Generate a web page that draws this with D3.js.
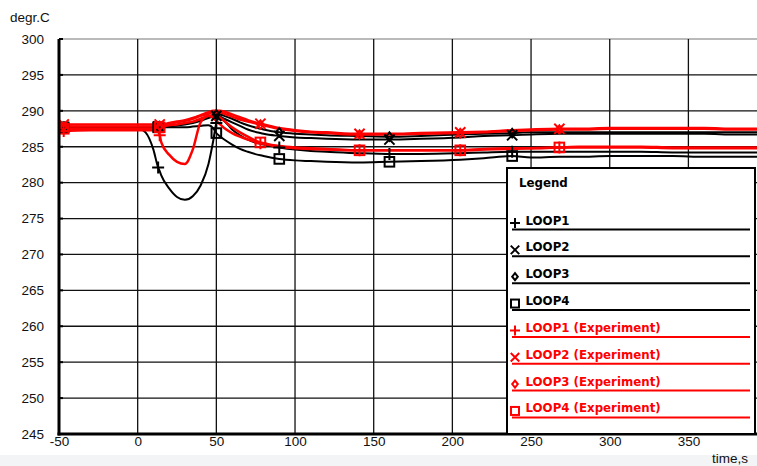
<!DOCTYPE html>
<html><head><meta charset="utf-8">
<script src="https://cdn.jsdelivr.net/npm/d3@7"></script>
<style>body{margin:0;background:#fff}svg{display:block}</style>
</head><body>
<script>
// ---------- data ----------
const times = [-50,-47,-30,-20,-10,0,5,10,13,14,15,20,25,30,35,40,45,48,50,52,55,60,65,70,78,80,90,100,110,120,141,160,180,205,220,238,250,268,280,300,320,340,360,380,394];
const loop1Sim = [287.7,287.7,287.7,287.7,287.7,287.6,287.0,284.6,282.1,281.6,281.0,279.2,278.0,277.6,278.1,279.6,282.6,285.8,288.3,289.0,288.6,287.4,286.6,286.0,285.4,285.3,284.9,284.6,284.4,284.3,284.1,284.0,284.0,284.1,284.2,284.3,284.3,284.3,284.3,284.3,284.3,284.2,284.2,284.2,284.2];
const loop2Sim = [287.7,287.7,287.7,287.7,287.7,287.7,287.7,287.7,287.8,287.8,287.8,287.9,288.0,288.1,288.3,288.6,289.0,289.2,289.3,289.2,288.9,288.4,287.9,287.4,286.9,286.8,286.5,286.3,286.2,286.1,286.0,286.0,286.1,286.3,286.5,286.6,286.7,286.8,286.8,286.8,286.8,286.8,286.8,286.7,286.7];
const loop3Sim = [287.7,287.7,287.7,287.7,287.7,287.7,287.7,287.7,287.8,287.8,287.8,287.9,288.0,288.2,288.4,288.7,289.2,289.4,289.5,289.5,289.3,288.9,288.4,288.0,287.5,287.4,287.0,286.8,286.7,286.6,286.5,286.4,286.5,286.7,286.8,286.9,287.0,287.0,287.0,287.0,287.0,287.0,287.0,287.0,287.0];
const loop4Sim = [287.7,287.7,287.7,287.7,287.7,287.7,287.7,287.7,287.7,287.7,287.7,287.7,287.7,287.7,287.8,287.9,288.0,287.6,286.9,286.5,286.0,285.3,284.7,284.3,283.8,283.7,283.3,283.1,283.0,282.9,282.8,282.9,283.0,283.2,283.4,283.7,283.5,283.6,283.6,283.7,283.7,283.7,283.6,283.6,283.6];
const loop1Exp = [287.1,287.2,287.3,287.3,287.3,287.3,287.3,287.3,287.1,286.6,285.6,283.9,282.9,282.6,284.6,288.4,289.3,289.0,288.6,288.2,287.6,286.9,286.4,286.0,285.5,285.4,285.0,284.8,284.7,284.6,284.5,284.5,284.5,284.5,284.6,284.7,284.8,284.9,284.9,284.9,284.9,284.8,284.8,284.8,284.8];
const loop2Exp = [288.3,288.1,288.1,288.1,288.1,288.1,288.1,288.1,288.1,288.1,288.1,288.3,288.5,288.7,289.0,289.4,289.8,290.0,290.0,290.0,289.9,289.5,289.1,288.7,288.2,288.1,287.6,287.3,287.1,287.0,286.8,286.8,286.9,287.0,287.1,287.3,287.4,287.5,287.5,287.6,287.6,287.6,287.6,287.5,287.5];
const loop3Exp = [287.9,287.8,287.8,287.8,287.8,287.8,287.8,287.8,287.9,287.9,288.0,288.2,288.4,288.6,288.9,289.3,289.6,289.8,289.8,289.8,289.6,289.2,288.8,288.5,288.1,288.0,287.5,287.2,287.0,286.9,286.7,286.7,286.8,286.9,287.0,287.2,287.3,287.4,287.4,287.5,287.5,287.5,287.5,287.4,287.4];
const loop4Exp = [287.4,287.5,287.5,287.5,287.5,287.5,287.5,287.5,287.7,287.7,287.8,288.0,288.1,288.3,288.5,288.9,289.3,289.4,289.3,289.1,288.6,287.7,287.0,286.4,285.6,285.5,285.1,284.9,284.8,284.7,284.5,284.5,284.5,284.5,284.7,284.8,284.8,284.9,285.0,285.0,285.0,284.9,284.9,284.9,284.9];
const simMarkerTimes = [-47,13,50,90,160,238];
const expMarkerTimes = [-47,14,78,141,205,268];
const xTicks = [-50,0,50,100,150,200,250,300,350];
const yTicks = [245,250,255,260,265,270,275,280,285,290,295,300];
const seriesNames = ["LOOP1","LOOP2","LOOP3","LOOP4","LOOP1 (Experiment)","LOOP2 (Experiment)","LOOP3 (Experiment)","LOOP4 (Experiment)"];
const seriesValues = [loop1Sim,loop2Sim,loop3Sim,loop4Sim,loop1Exp,loop2Exp,loop3Exp,loop4Exp];
const seriesShapes = ["plus","cross","diamond","square","plus","cross","diamond","square"];
const seriesColors = ["#000","#000","#000","#000","#f00","#f00","#f00","#f00"];

// ---------- layout ----------
const W = 757, H = 466;
const L = 59, R = 757, T = 39, B = 434;
const svg = d3.select("body").append("svg").attr("width", W).attr("height", H);
const x = d3.scaleLinear().domain([-50, 393.6]).range([L, R]);
const y = d3.scaleLinear().domain([245, 300]).range([B, T]);
const FONT = "Liberation Sans, Arial, sans-serif";

svg.append("rect").attr("x",0).attr("y",455).attr("width",W).attr("height",11).attr("fill","#f2f4f6");

// grid
const grid = svg.append("g");
grid.selectAll(".gy").data(yTicks.filter(v=>v>245 && v<300)).join("line")
  .attr("x1",L).attr("x2",R).attr("y1",d=>y(d)).attr("y2",d=>y(d))
  .attr("stroke","#111").attr("stroke-width",1.3);
grid.append("line").attr("x1",L).attr("x2",R).attr("y1",y(300)).attr("y2",y(300))
  .attr("stroke","#777").attr("stroke-width",1.2);
grid.selectAll(".gx").data(xTicks.filter(v=>v>-50)).join("line")
  .attr("x1",d=>x(d)).attr("x2",d=>x(d)).attr("y1",T).attr("y2",B)
  .attr("stroke","#111").attr("stroke-width",1.3);

// series
svg.append("clipPath").attr("id","clip").append("rect")
  .attr("x",L).attr("y",T).attr("width",R-L).attr("height",B-T);
const line = d3.line().x((d,i)=>x(times[i])).y(d=>y(d)).curve(d3.curveMonotoneX);
const plot = svg.append("g").attr("clip-path","url(#clip)");
const order = [0,1,2,3,4,7,5,6];
function drawShape(g, shape, cx, cy, color, s) {
  if (shape === "plus") {
    g.append("path").attr("d",`M${cx-s},${cy}H${cx+s}M${cx},${cy-s}V${cy+s}`)
      .attr("stroke",color).attr("stroke-width",2).attr("fill","none");
  } else if (shape === "cross") {
    const k = s*0.85;
    g.append("path").attr("d",`M${cx-k},${cy-k}L${cx+k},${cy+k}M${cx-k},${cy+k}L${cx+k},${cy-k}`)
      .attr("stroke",color).attr("stroke-width",2).attr("fill","none");
  } else if (shape === "diamond") {
    const k = s*0.7;
    g.append("path").attr("d",`M${cx},${cy-k}L${cx+k*0.8},${cy}L${cx},${cy+k}L${cx-k*0.8},${cy}Z`)
      .attr("stroke",color).attr("stroke-width",2).attr("fill","none");
  } else {
    const k = s*0.8;
    g.append("rect").attr("x",cx-k).attr("y",cy-k).attr("width",2*k).attr("height",2*k)
      .attr("stroke",color).attr("stroke-width",2).attr("fill","none");
  }
}
order.forEach(i => {
  plot.append("path").datum(seriesValues[i]).attr("d",line)
    .attr("fill","none").attr("stroke",seriesColors[i]).attr("stroke-width",i<4?2:2.5)
    .attr("stroke-linejoin","round");
});
order.forEach(i => {
  const mt = i < 4 ? simMarkerTimes : expMarkerTimes;
  mt.forEach(t => {
    const j = times.indexOf(t);
    drawShape(plot, seriesShapes[i], x(t), y(seriesValues[i][j]), seriesColors[i], 6);
  });
});

// axes
const yAxis = svg.append("g").attr("transform",`translate(${L},0)`)
  .call(d3.axisLeft(y).tickValues(yTicks).tickSize(0).tickPadding(15));
yAxis.select(".domain").remove();
yAxis.selectAll("text").attr("font-family",FONT).attr("font-size",13.5).attr("fill","#111");
const xAxis = svg.append("g").attr("transform",`translate(0,${B})`)
  .call(d3.axisBottom(x).tickValues(xTicks).tickSize(0).tickPadding(2).tickFormat(d => String(d)));
xAxis.select(".domain").remove();
xAxis.selectAll("text").attr("font-family",FONT).attr("font-size",13.5).attr("fill","#111");
svg.append("line").attr("x1",L).attr("x2",L).attr("y1",T).attr("y2",B+1.5).attr("stroke","#000").attr("stroke-width",3);
svg.append("line").attr("x1",L-1.5).attr("x2",R).attr("y1",B).attr("y2",B).attr("stroke","#000").attr("stroke-width",3);
svg.selectAll(".ytk").data(yTicks).join("line").attr("x1",L).attr("x2",L+4)
  .attr("y1",d=>y(d)).attr("y2",d=>y(d)).attr("stroke","#000").attr("stroke-width",2);

svg.append("text").attr("x",10).attr("y",22).text("degr.C")
  .attr("font-family",FONT).attr("font-size",13.5).attr("fill","#111");
svg.append("text").attr("x",748).attr("y",463).attr("text-anchor","end").text("time,s")
  .attr("font-family",FONT).attr("font-size",13.5).attr("fill","#111");

// legend
const lg = svg.append("g");
lg.append("rect").attr("x",507).attr("y",168).attr("width",248).attr("height",B-168)
  .attr("fill","#fff").attr("stroke","#000").attr("stroke-width",2);
lg.append("text").attr("x",519).attr("y",187).text("Legend")
  .attr("font-family","DejaVu Sans, sans-serif").attr("font-weight","bold").attr("font-size",11.8).attr("fill","#000");
seriesNames.forEach((n,i) => {
  const ly = 229.5 + i*26.85;
  lg.append("line").attr("x1",512).attr("x2",750).attr("y1",ly).attr("y2",ly)
    .attr("stroke",seriesColors[i]).attr("stroke-width",2);
  lg.append("text").attr("x",525.5).attr("y",ly-5).text(n)
    .attr("font-family","DejaVu Sans, sans-serif").attr("font-weight","bold").attr("font-size",11.8)
    .attr("fill",seriesColors[i]);
  drawShape(lg, seriesShapes[i], 515, ly-6.5, seriesColors[i], 5);
});
</script>
</body></html>
